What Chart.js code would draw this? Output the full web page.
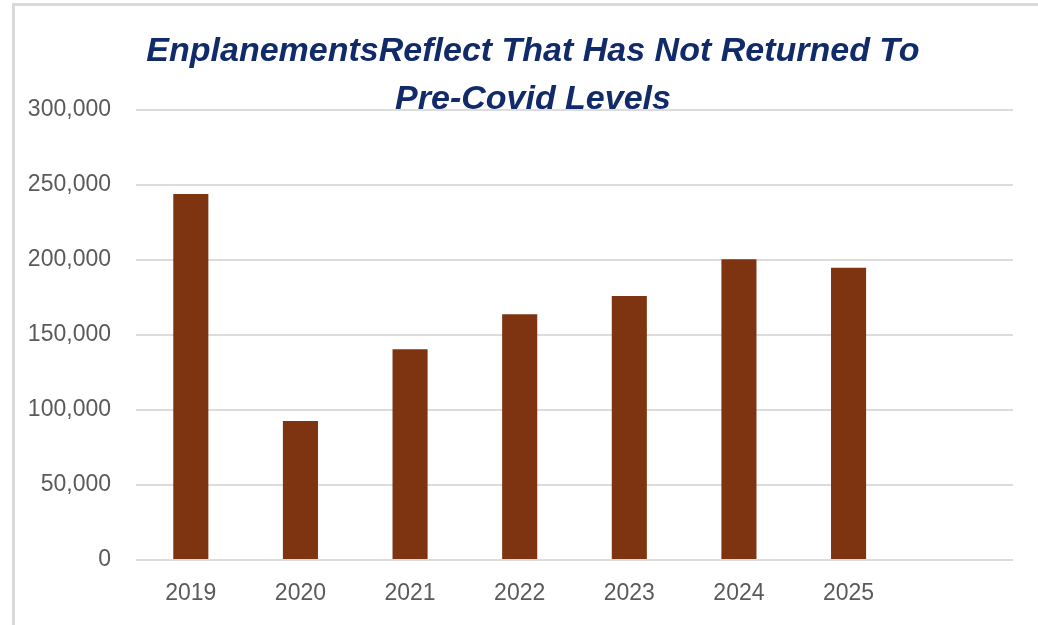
<!DOCTYPE html>
<html>
<head>
<meta charset="utf-8">
<script src="https://cdn.jsdelivr.net/npm/chart.js@4"></script>
<style>
  html, body { margin: 0; padding: 0; background: #ffffff; overflow: hidden; }
  #wrap { position: relative; width: 1038px; height: 625px; }
  #frame { position: absolute; left: 12px; top: 3px; width: 1100px; height: 619px;
           border-left: 3px solid #dadada; border-top: 3px solid #dadada; border-bottom: 1px solid #efefef;
           pointer-events: none; }
  canvas { position: absolute; left: 0; top: 0; }
</style>
</head>
<body>
<div id="wrap">
  <canvas id="c" width="1038" height="625"></canvas>
  <div id="frame"></div>
</div>
<script>
const categories = ['2019', '2020', '2021', '2022', '2023', '2024', '2025', ''];
const enplanements = [244000, 92700, 140500, 163800, 176000, 200500, 194900, null];
const titleLines = ['EnplanementsReflect That Has Not Returned To', 'Pre-Covid Levels'];
const yMin = 0, yMax = 300000, yStep = 50000;

const titlePlugin = {
  id: 'customTitle',
  afterDraw(chart) {
    const ctx = chart.ctx;
    ctx.save();
    ctx.font = 'italic bold 34px "Liberation Sans", Arial, sans-serif';
    ctx.fillStyle = '#112a6a';
    ctx.textAlign = 'center';
    ctx.textBaseline = 'alphabetic';
    const baselines = [61, 109];
    titleLines.forEach((t, i) => ctx.fillText(t, 533, baselines[i]));
    ctx.restore();
  }
};

new Chart(document.getElementById('c'), {
  type: 'bar',
  data: {
    labels: categories,
    datasets: [{
      data: enplanements,
      backgroundColor: '#7e3411',
      borderWidth: 0,
      barPercentage: 0.32,
      categoryPercentage: 1.0
    }]
  },
  options: {
    responsive: false,
    animation: false,
    devicePixelRatio: 1,
    layout: { padding: { left: 0, right: 25, top: 110, bottom: 0 } },
    plugins: { legend: { display: false }, title: { display: false }, tooltip: { enabled: false } },
    scales: {
      x: {
        grid: { display: false, drawTicks: false },
        border: { display: false },
        ticks: { color: '#5a5a5a', font: { family: '"Liberation Sans", Arial, sans-serif', size: 23 }, padding: 20, maxRotation: 0, autoSkip: false },
        afterFit(s) { s.height = 65; }
      },
      y: {
        min: yMin, max: yMax,
        grid: { color: '#dcdcdc', lineWidth: 2, drawTicks: false },
        border: { display: false },
        ticks: { stepSize: yStep, color: '#5a5a5a', font: { family: '"Liberation Sans", Arial, sans-serif', size: 23 }, padding: 25 },
        afterFit(s) { s.width = 136; }
      }
    }
  },
  plugins: [titlePlugin]
});
</script>
</body>
</html>
